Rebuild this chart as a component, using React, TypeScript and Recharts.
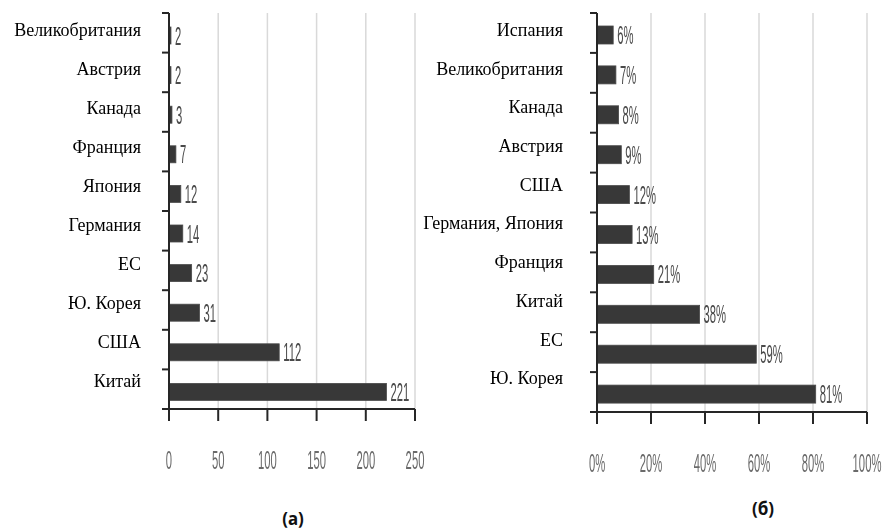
import React from 'react';
import { BarChart, Bar, XAxis, YAxis, CartesianGrid, LabelList } from 'recharts';

// (а) absolute numbers
const leftCountries = ['Великобритания', 'Австрия', 'Канада', 'Франция', 'Япония', 'Германия', 'ЕС', 'Ю. Корея', 'США', 'Китай'];
const leftValues = [2, 2, 3, 7, 12, 14, 23, 31, 112, 221];
const leftTicks = [0, 50, 100, 150, 200, 250];

// (б) shares, %
const rightCountries = ['Испания', 'Великобритания', 'Канада', 'Австрия', 'США', 'Германия, Япония', 'Франция', 'Китай', 'ЕС', 'Ю. Корея'];
const rightShares = [6, 7, 8, 9, 12, 13, 21, 38, 59, 81];
const rightTicks = [0, 20, 40, 60, 80, 100];

const leftData = leftCountries.map((name, i) => ({ name, value: leftValues[i] }));
const rightData = rightCountries.map((name, i) => ({ name, value: rightShares[i] }));

const AXIS = '#262626';
const BAR = '#383838';
const GRID = '#d9d9d9';
const SERIF = 'Liberation Serif, Times New Roman, DejaVu Serif, serif';
const NARROW = 'Liberation Sans, Arial, sans-serif';

const NarrowText = ({ x, y, text, fill, anchor }: any) => (
  <text
    transform={`translate(${x},${y}) scale(0.45,1)`}
    style={{ fontFamily: NARROW, fontSize: 25 }}
    fill={fill}
    textAnchor={anchor}
    dominantBaseline="central"
  >
    {text}
  </text>
);

const CategoryTick = ({ x, y, payload, index, margin, band, count, lift, step }: any) => {
  const axisX = x + margin;
  const top = y - band / 2;
  return (
    <g>
      <text
        x={x}
        y={y + lift - step * index}
        textAnchor="end"
        dominantBaseline="central"
        style={{ fontFamily: SERIF, fontSize: 18 }}
        fill="#000"
      >
        {payload.value}
      </text>
      <line x1={axisX - 7} x2={axisX} y1={top} y2={top} stroke={AXIS} strokeWidth={2} />
      {index === count - 1 && (
        <line x1={axisX - 7} x2={axisX} y1={y + band / 2} y2={y + band / 2} stroke={AXIS} strokeWidth={2} />
      )}
    </g>
  );
};

const ValueTick = ({ x, y, payload, suffix }: any) => (
  <NarrowText x={x} y={y + 39} text={`${payload.value}${suffix}`} fill="#6a6a6a" anchor="middle" />
);

const shiftedBar = (shift: number) => (p: any) => (
  <rect x={p.x} y={p.y + shift} width={p.width} height={p.height} fill={BAR} stroke="#4a4a4a" strokeWidth={0.8} />
);

const valueLabel = (shift: number, suffix: string) => (p: any) => (
  <NarrowText
    x={p.x + p.width + 4}
    y={p.y + p.height / 2 + shift}
    text={`${p.value}${suffix}`}
    fill="#4a4a4a"
    anchor="start"
  />
);

interface PanelProps {
  data: { name: string; value: number }[];
  ticks: number[];
  width: number;
  axisWidth: number;
  labelGap: number;
  right: number;
  bottom: number;
  suffix: string;
  lift: number;
  step: number;
  shift: number;
  barSize: number;
}

const Panel: React.FC<PanelProps> = ({ data, ticks, width, axisWidth, labelGap, right, bottom, suffix, lift, step, shift, barSize }) => {
  const height = 490;
  const top = 13;
  const plotH = height - top - bottom - 60;
  const band = plotH / data.length;
  return (
    <BarChart
      width={width}
      height={height}
      data={data}
      layout="vertical"
      margin={{ top, right, bottom, left: 0 }}
    >
      <CartesianGrid horizontal={false} stroke={GRID} strokeWidth={1.5} />
      <XAxis
        type="number"
        domain={[ticks[0], ticks[ticks.length - 1]]}
        ticks={ticks}
        height={60}
        tickSize={12}
        tickMargin={0}
        axisLine={{ stroke: AXIS, strokeWidth: 2 }}
        tickLine={{ stroke: AXIS, strokeWidth: 2 }}
        tick={(p: any) => <ValueTick {...p} suffix={suffix} />}
        interval={0}
      />
      <YAxis
        type="category"
        dataKey="name"
        width={axisWidth}
        tickSize={0}
        tickMargin={labelGap}
        axisLine={{ stroke: AXIS, strokeWidth: 2 }}
        tickLine={false}
        interval={0}
        tick={(p: any) => (
          <CategoryTick {...p} margin={labelGap} band={band} count={data.length} lift={lift} step={step} />
        )}
      />
      <Bar dataKey="value" barSize={barSize} isAnimationActive={false} shape={shiftedBar(shift)}>
        <LabelList dataKey="value" content={valueLabel(shift, suffix)} />
      </Bar>
    </BarChart>
  );
};

const captionStyle: React.CSSProperties = {
  position: 'absolute',
  transform: 'translateX(-50%)',
  fontFamily: "'Noto Sans', sans-serif",
  fontWeight: 700,
  fontSize: 17,
  color: '#111',
  whiteSpace: 'nowrap',
};

export default function App() {
  return (
    <div style={{ position: 'absolute', left: 0, top: 0, width: 885, height: 530, background: '#fff', overflow: 'hidden' }}>
      <div style={{ position: 'absolute', left: 0, top: 0, willChange: 'transform' }}>
        <Panel
          data={leftData}
          ticks={leftTicks}
          width={430}
          axisWidth={169}
          labelGap={28}
          right={15}
          bottom={21}
          suffix=""
          lift={-2.5}
          step={0.65}
          shift={3}
          barSize={17}
        />
      </div>
      <div style={{ position: 'absolute', left: 410, top: 0, willChange: 'transform' }}>
        <Panel
          data={rightData}
          ticks={rightTicks}
          width={475}
          axisWidth={187}
          labelGap={34}
          right={18}
          bottom={18}
          suffix="%"
          lift={-3}
          step={1.2}
          shift={2}
          barSize={18}
        />
      </div>
      <div style={{ ...captionStyle, left: 293, top: 507 }}>(а)</div>
      <div style={{ ...captionStyle, left: 763, top: 497 }}>(б)</div>
    </div>
  );
}
